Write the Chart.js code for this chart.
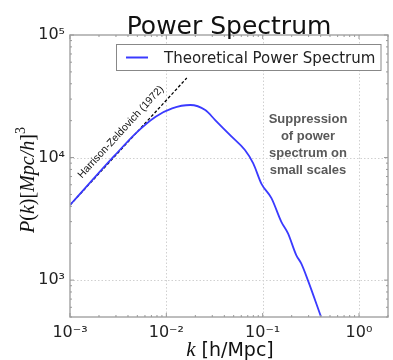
<!DOCTYPE html>
<html><head><meta charset="utf-8">
<script src="https://cdn.jsdelivr.net/npm/chart.js@4/dist/chart.umd.min.js"></script>
<style>html,body{margin:0;padding:0;background:#fff}#wrap{width:393px;height:360px;position:relative}</style>
</head><body><div id="wrap"><canvas id="c" width="393" height="360"></canvas></div>
<script>
// Theoretical power spectrum
const kValues = [0.001, 0.00172, 0.00288, 0.00481, 0.00774, 0.01148, 0.01774, 0.02535, 0.03214, 0.04764, 0.06546, 0.0798, 0.0972, 0.1233, 0.1563, 0.1832, 0.2231, 0.2512, 0.2944, 0.4036];
const pValues = [4100, 6600, 10300, 15770, 21530, 25200, 26840, 24410, 20230, 14790, 11510, 8970, 6100, 4670, 2990, 2405, 1600, 1368, 1000, 501];
// Harrison-Zeldovich reference line
const kHZ = [0.001, 0.0163];
const pHZ = [4100, 44600];
// Axis ticks
const xMajorTicks = [0.001, 0.01, 0.1, 1];
const xTickLabels = ['10\u207B\u00B3', '10\u207B\u00B2', '10\u207B\u00B9', '10\u2070'];
const yMajorTicks = [1000, 10000, 100000];
const yTickLabels = ['10\u00B3', '10\u2074', '10\u2075'];
const titleText = 'Power Spectrum';
const seriesName = 'Theoretical Power Spectrum';
const hzLabel = 'Harrison-Zeldovich (1972)';
const noteLines = ['Suppression', 'of power', 'spectrum on', 'small scales'];

function minorTicks(min, max) {
  const out = [];
  for (let e = Math.floor(Math.log10(min)); e <= Math.ceil(Math.log10(max)); e++) {
    for (let m = 1; m < 10; m++) {
      const v = m * Math.pow(10, e);
      if (v >= min * 0.9999 && v <= max * 1.0001) out.push(v);
    }
  }
  return out;
}

function drawRuns(ctx, runs, x, y) {
  let w = 0;
  runs.forEach(r => { ctx.font = r.f; w += ctx.measureText(r.t).width; });
  let cx = x - w / 2;
  ctx.textAlign = 'left';
  ctx.textBaseline = 'alphabetic';
  runs.forEach(r => { ctx.font = r.f; ctx.fillText(r.t, cx, y + (r.dy || 0)); cx += ctx.measureText(r.t).width; });
}

const decor = {
  id: 'decor',
  beforeDatasetsDraw(chart) {
    const ctx = chart.ctx, a = chart.chartArea, xs = chart.scales.x, ys = chart.scales.y;
    ctx.save();
    ctx.strokeStyle = '#d0d0d0';
    ctx.lineWidth = 1;
    ctx.setLineDash([1.5, 2]);
    xMajorTicks.forEach(v => { const px = Math.round(xs.getPixelForValue(v)) + 0.5; if (px > a.left + 2 && px < a.right - 2) { ctx.beginPath(); ctx.moveTo(px, a.top); ctx.lineTo(px, a.bottom); ctx.stroke(); } });
    yMajorTicks.forEach(v => { const py = Math.round(ys.getPixelForValue(v)) + 0.5; if (py > a.top + 2 && py < a.bottom - 2) { ctx.beginPath(); ctx.moveTo(a.left, py); ctx.lineTo(a.right, py); ctx.stroke(); } });
    ctx.setLineDash([]);
    ctx.restore();
  },
  afterDraw(chart) {
    const ctx = chart.ctx, a = chart.chartArea, xs = chart.scales.x, ys = chart.scales.y;
    ctx.save();
    // frame
    ctx.strokeStyle = '#a8a8a8';
    ctx.lineWidth = 1.5;
    ctx.strokeRect(a.left, a.top, a.right - a.left, a.bottom - a.top);
    // inward ticks
    ctx.lineWidth = 1;
    ctx.strokeStyle = '#999';
    minorTicks(xs.min, xs.max).forEach(v => {
      const px = xs.getPixelForValue(v);
      const L = xMajorTicks.includes(v) ? 4 : 2;
      ctx.beginPath(); ctx.moveTo(px, a.bottom); ctx.lineTo(px, a.bottom - L); ctx.moveTo(px, a.top); ctx.lineTo(px, a.top + L); ctx.stroke();
    });
    minorTicks(ys.min, ys.max).forEach(v => {
      const py = ys.getPixelForValue(v);
      const L = yMajorTicks.includes(v) ? 4 : 2;
      ctx.beginPath(); ctx.moveTo(a.left, py); ctx.lineTo(a.left + L, py); ctx.moveTo(a.right, py); ctx.lineTo(a.right - L, py); ctx.stroke();
    });
    // title
    ctx.fillStyle = '#111';
    ctx.font = '25px "DejaVu Sans"';
    ctx.textAlign = 'center';
    ctx.textBaseline = 'alphabetic';
    ctx.fillText(titleText, (a.left + a.right) / 2, 34);
    // legend
    ctx.fillStyle = '#fff';
    ctx.strokeStyle = '#888';
    ctx.lineWidth = 1;
    ctx.fillRect(116, 44.5, 265, 26);
    ctx.strokeRect(116.5, 44.5, 264.5, 26);
    ctx.strokeStyle = '#3a3aff';
    ctx.lineWidth = 2;
    ctx.beginPath(); ctx.moveTo(126, 57.5); ctx.lineTo(148, 57.5); ctx.stroke();
    ctx.fillStyle = '#222';
    ctx.font = '15px "DejaVu Sans"';
    ctx.textAlign = 'left';
    ctx.fillText(seriesName, 164, 63);
    // HZ label along dashed line
    ctx.save();
    ctx.translate(123, 134);
    ctx.rotate(-Math.atan2(125.7, 115.7));
    ctx.font = '10.5px "Liberation Sans"';
    ctx.fillStyle = '#111';
    ctx.textAlign = 'center';
    ctx.textBaseline = 'alphabetic';
    ctx.fillText(hzLabel, 0, 0);
    ctx.restore();
    // note
    ctx.fillStyle = '#595959';
    ctx.font = 'bold 13px "Liberation Sans"';
    ctx.textAlign = 'center';
    noteLines.forEach((t, i) => ctx.fillText(t, 308, 123 + i * 17));
    // x label
    ctx.fillStyle = '#111';
    drawRuns(ctx, [
      { t: 'k', f: 'italic 21px "Liberation Serif"' },
      { t: ' [h/Mpc]', f: '19px "DejaVu Sans"' }
    ], 230, 356);
    // y label
    ctx.save();
    ctx.translate(34, 180);
    ctx.rotate(-Math.PI / 2);
    const it = 'italic 20px "Liberation Serif"', up = '20px "Liberation Serif"';
    drawRuns(ctx, [
      { t: 'P', f: it }, { t: '(', f: up }, { t: 'k', f: it }, { t: ')', f: up },
      { t: '[', f: up }, { t: 'Mpc/h', f: it }, { t: ']', f: up },
      { t: '3', f: '14px "Liberation Serif"', dy: -9 }
    ], 0, 0);
    ctx.restore();
    ctx.restore();
  }
};

new Chart(document.getElementById('c'), {
  type: 'scatter',
  data: {
    datasets: [
      {
        label: seriesName,
        data: kValues.map((k, i) => ({ x: k, y: pValues[i] })),
        showLine: true,
        borderColor: '#3a3aff',
        borderWidth: 1.8,
        pointRadius: 0,
        tension: 0.35,
        cubicInterpolationMode: 'monotone'
      },
      {
        label: hzLabel,
        data: kHZ.map((k, i) => ({ x: k, y: pHZ[i] })),
        showLine: true,
        borderColor: '#000',
        borderWidth: 1.3,
        borderDash: [3, 2],
        pointRadius: 0
      }
    ]
  },
  options: {
    responsive: false,
    animation: false,
    events: [],
    layout: { padding: { top: 35, right: 5, left: 0, bottom: 0 } },
    plugins: { legend: { display: false }, tooltip: { enabled: false }, title: { display: false } },
    scales: {
      x: {
        type: 'logarithmic', min: 0.001, max: 2,
        afterBuildTicks: s => { s.ticks = xMajorTicks.map(v => ({ value: v })); },
        afterFit: s => { s.height = 43; },
        grid: { display: false, drawTicks: false },
        border: { display: false },
        ticks: {
          autoSkip: false, maxRotation: 0, padding: 6, color: '#222',
          font: { family: 'DejaVu Sans', size: 16 },
          callback: (v) => { const i = xMajorTicks.indexOf(v); return i >= 0 ? xTickLabels[i] : ''; }
        }
      },
      y: {
        type: 'logarithmic', min: 500, max: 100000,
        afterBuildTicks: s => { s.ticks = yMajorTicks.map(v => ({ value: v })); },
        afterFit: s => { s.width = 70; },
        grid: { display: false, drawTicks: false },
        border: { display: false },
        ticks: {
          autoSkip: false, padding: 5, color: '#222',
          font: { family: 'DejaVu Sans', size: 16 },
          callback: (v) => { const i = yMajorTicks.indexOf(v); return i >= 0 ? yTickLabels[i] : ''; }
        }
      }
    }
  },
  plugins: [decor]
});
</script></body></html>
